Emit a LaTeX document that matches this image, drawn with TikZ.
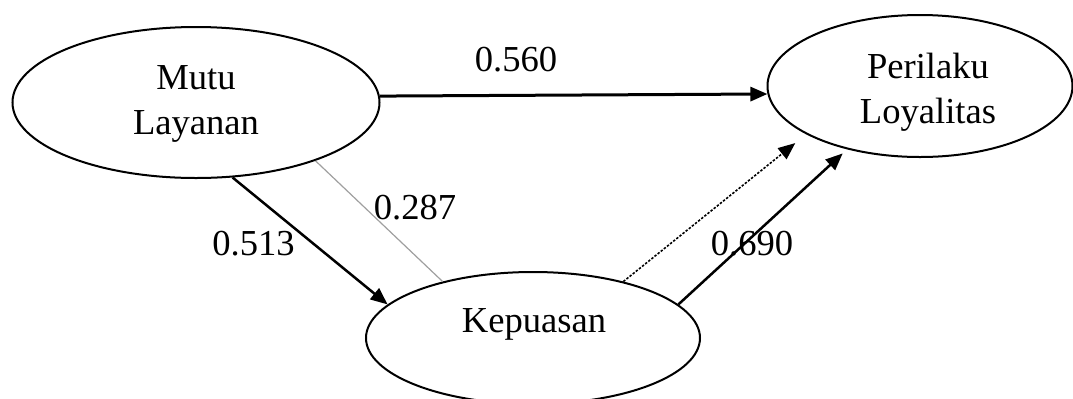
\documentclass[tikz,border=0pt]{standalone}
\usepackage{fontspec}
\setmainfont{Liberation Serif}
\usetikzlibrary{arrows.meta,shapes.geometric}

\begin{document}
\begin{tikzpicture}[x=0.5pt,y=-0.5pt,
        font=\fontsize{18.3}{22.5}\selectfont,
        var/.style={draw,ellipse,line width=1pt,inner sep=0pt},
        effect/.style={line width=1.25pt,-{Triangle[length=8.5pt,width=7pt]}}]
            \useasboundingbox (0,0) rectangle (1073,398);
            % latent variables
            \node[var,minimum width=183.5pt,minimum height=75.5pt] (mutu) at (196,102.5) {};
            \node[var,minimum width=152.5pt,minimum height=71pt] (per) at (920,86) {};
            \node[var,minimum width=167pt,minimum height=66pt] (kep) at (533,338) {};
            \node[align=center] (mututxt) at (196,104) {Mutu\\Layanan};
            \node[align=center] (pertxt) at (928,92) {Perilaku\\Loyalitas};
            \node (keptxt) at (534,324.5) {Kepuasan};
            % coefficients
            \node (b560) at (516,59.5) {0.560};
            \node (b287) at (415,207.5) {0.287};
            \node (b513) at (253.5,243.5) {0.513};
            \node (b690) at (752,244) {0.690};
            % paths
            \draw[effect,line width=1.5pt] (mutu.2.4)--(per.183.4);
            \draw[effect] (mutu.-64)--(kep.167);
            \draw[gray!75,line width=0.6pt] (mutu.-26)--(kep.148);
            \draw[effect,line width=0.8pt,dash pattern=on 1.2pt off 0.8pt,shorten >=7pt] (kep.32)--(per.203.4);
            \draw[effect,shorten >=3pt] (kep.13.7)--(per.221.8);
        \end{tikzpicture}
\end{document}
